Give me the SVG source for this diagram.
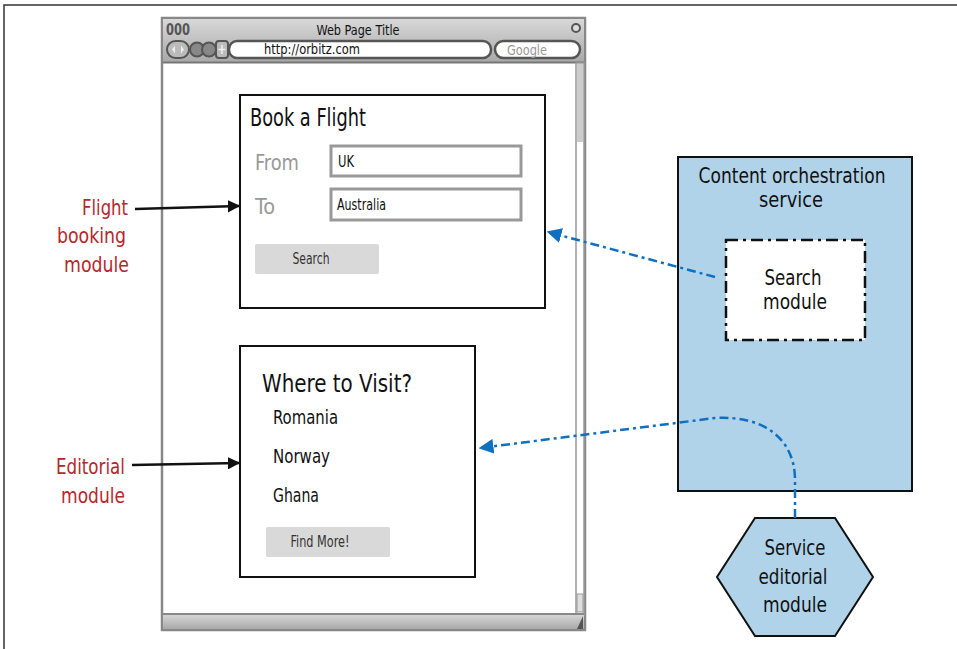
<svg xmlns="http://www.w3.org/2000/svg" width="957" height="649" viewBox="0 0 957 649">
<defs>
<style>
text{font-family:"DejaVu Sans Condensed","Liberation Sans",sans-serif;}
.lbl{fill:#b5272d;font-size:22px;text-anchor:end;}
.blk{fill:#111;}
.gray{fill:#999;}
.box{fill:#fff;stroke:#111;stroke-width:2;}
.inp{fill:#fff;stroke:#999;stroke-width:3;}
.btn{fill:#d9d9d9;}
.blue{fill:#b0d3ea;stroke:#111;stroke-width:2;}
.dash{fill:none;stroke:#1070c0;stroke-width:2.5;stroke-dasharray:9 4 3 4;}
.arr{fill:none;stroke:#111;stroke-width:2.5;}
.mid{text-anchor:middle;}
</style>
<linearGradient id="bar" x1="0" y1="0" x2="0" y2="1">
<stop offset="0" stop-color="#d8d8d8"/><stop offset="1" stop-color="#a9a9a9"/>
</linearGradient>
<marker id="ab" viewBox="0 0 10 10" refX="9" refY="5" markerWidth="5" markerHeight="5" orient="auto" markerUnits="strokeWidth"><path d="M0,0L10,5L0,10z" fill="#111"/></marker>
<marker id="au" viewBox="0 0 10 10" refX="9" refY="5" markerWidth="6" markerHeight="6" orient="auto" markerUnits="strokeWidth"><path d="M0,0L10,5L0,10z" fill="#1070c0"/></marker>
</defs>
<rect width="957" height="649" fill="#fff"/>
<path d="M4,649V5H957" fill="none" stroke="#333" stroke-width="1.5"/>

<g id="browser">
<rect x="162" y="18" width="423" height="612" fill="#fff" stroke="#888" stroke-width="2.5"/>
<rect x="163" y="19" width="421" height="43" fill="url(#bar)"/>
<line x1="163" y1="62.5" x2="584" y2="62.5" stroke="#777" stroke-width="2"/>
<text x="166" y="35" font-size="15" font-weight="bold" fill="#555" textLength="24" lengthAdjust="spacingAndGlyphs">000</text>
<circle cx="576" cy="28" r="4" fill="#ddd" stroke="#555" stroke-width="2"/>
<text x="358" y="35" class="mid blk" font-size="14" textLength="83" lengthAdjust="spacingAndGlyphs">Web Page Title</text>
<rect x="167" y="41" width="22" height="17" rx="8.5" fill="#bbb" stroke="#555" stroke-width="2"/>
<path d="M175,45.5v8l-3,-4z M181,45.5v8l3,-4z" fill="#eee"/>
<circle cx="197" cy="49.5" r="7" fill="#888" stroke="#555" stroke-width="2"/>
<circle cx="209" cy="49.5" r="7" fill="#888" stroke="#555" stroke-width="2"/>
<rect x="216" y="41" width="12" height="17" rx="3" fill="#bbb" stroke="#555" stroke-width="2"/>
<path d="M222,45v9M218.5,49.5h7" stroke="#eee" stroke-width="1.5"/>
<rect x="229" y="41" width="262" height="17" rx="8" fill="#fff" stroke="#555" stroke-width="2.5"/>
<text x="264" y="54" class="blk" font-size="14" textLength="96" lengthAdjust="spacingAndGlyphs">http://orbitz.com</text>
<rect x="495" y="41" width="85" height="17" rx="8.5" fill="#fff" stroke="#555" stroke-width="2.5"/>
<text x="527" y="55" class="mid gray" font-size="14" textLength="40" lengthAdjust="spacingAndGlyphs">Google</text>
<rect x="576" y="63" width="8" height="552" fill="#fff" stroke="#999" stroke-width="1.5"/>
<rect x="577" y="64" width="6" height="78" fill="#ccc"/>
<rect x="577" y="594" width="6" height="18" fill="#ddd" stroke="#999" stroke-width="1"/>
<rect x="163" y="614" width="421" height="15" fill="url(#bar)"/>
<line x1="163" y1="614" x2="584" y2="614" stroke="#888" stroke-width="2"/>
<path d="M583,616V629H577z" fill="#555"/>
</g>

<g id="flight-booking">
<rect x="240" y="95" width="305" height="213" class="box"/>
<text x="250" y="126" class="blk" font-size="24" textLength="116" lengthAdjust="spacingAndGlyphs">Book a Flight</text>
<text x="255" y="170" class="gray" font-size="22" textLength="44" lengthAdjust="spacingAndGlyphs">From</text>
<rect x="331" y="146" width="190" height="30" class="inp"/>
<text x="338" y="167" class="blk" font-size="15" textLength="16" lengthAdjust="spacingAndGlyphs">UK</text>
<text x="255" y="214" class="gray" font-size="22" textLength="20" lengthAdjust="spacingAndGlyphs">To</text>
<rect x="331" y="189" width="190" height="31" class="inp"/>
<text x="337" y="210" class="blk" font-size="15" textLength="49" lengthAdjust="spacingAndGlyphs">Australia</text>
<rect x="255" y="244" width="124" height="30" rx="2" class="btn"/>
<text x="311" y="264" class="mid" font-size="15" fill="#333" textLength="37" lengthAdjust="spacingAndGlyphs">Search</text>
</g>

<g id="editorial">
<rect x="240" y="346" width="235" height="231" class="box"/>
<text x="262" y="392" class="blk" font-size="24" textLength="150" lengthAdjust="spacingAndGlyphs">Where to Visit?</text>
<text x="273" y="424" class="blk" font-size="19" textLength="65" lengthAdjust="spacingAndGlyphs">Romania</text>
<text x="273" y="463" class="blk" font-size="19" textLength="57" lengthAdjust="spacingAndGlyphs">Norway</text>
<text x="273" y="502" class="blk" font-size="19" textLength="46" lengthAdjust="spacingAndGlyphs">Ghana</text>
<rect x="266" y="527" width="124" height="30" rx="2" class="btn"/>
<text x="320" y="547" class="mid" font-size="15" fill="#333" textLength="59" lengthAdjust="spacingAndGlyphs">Find More!</text>
</g>

<g id="content-orchestration">
<rect x="678" y="157" width="234" height="334" class="blue"/>
<text x="792" y="183" class="mid blk" font-size="22" textLength="187" lengthAdjust="spacingAndGlyphs">Content orchestration</text>
<text x="791" y="207" class="mid blk" font-size="22" textLength="64" lengthAdjust="spacingAndGlyphs">service</text>
</g>

<g id="search-module">
<rect x="726" y="240" width="139" height="100" fill="#fff" stroke="#111" stroke-width="2.5" stroke-dasharray="12 5 3 5"/>
<text x="793" y="285" class="mid blk" font-size="22" textLength="57" lengthAdjust="spacingAndGlyphs">Search</text>
<text x="795" y="309" class="mid blk" font-size="22" textLength="64" lengthAdjust="spacingAndGlyphs">module</text>
</g>

<g id="service-editorial">
<polygon points="755,518 835,518 873,577 835,636 755,636 717,577" class="blue"/>
<text x="795" y="555" class="mid blk" font-size="22" textLength="61" lengthAdjust="spacingAndGlyphs">Service</text>
<text x="793" y="584" class="mid blk" font-size="22" textLength="69" lengthAdjust="spacingAndGlyphs">editorial</text>
<text x="795" y="612" class="mid blk" font-size="22" textLength="64" lengthAdjust="spacingAndGlyphs">module</text>
</g>

<g id="labels">
<text x="128" y="215" class="lbl" textLength="46" lengthAdjust="spacingAndGlyphs">Flight</text>
<text x="126" y="243" class="lbl" textLength="69" lengthAdjust="spacingAndGlyphs">booking</text>
<text x="129" y="272" class="lbl" textLength="65" lengthAdjust="spacingAndGlyphs">module</text>
<text x="125" y="474" class="lbl" textLength="69" lengthAdjust="spacingAndGlyphs">Editorial</text>
<text x="125" y="503" class="lbl" textLength="64" lengthAdjust="spacingAndGlyphs">module</text>
</g>

<g id="connectors">
<line x1="135" y1="209" x2="239" y2="206" class="arr" marker-end="url(#ab)"/>
<line x1="132" y1="465" x2="239" y2="463" class="arr" marker-end="url(#ab)"/>
<line x1="715" y1="277" x2="548" y2="232" class="dash" marker-end="url(#au)"/>
<path d="M795,518V480C795,440 765,415 715,418L480,448" class="dash" marker-end="url(#au)"/>
</g>
</svg>
